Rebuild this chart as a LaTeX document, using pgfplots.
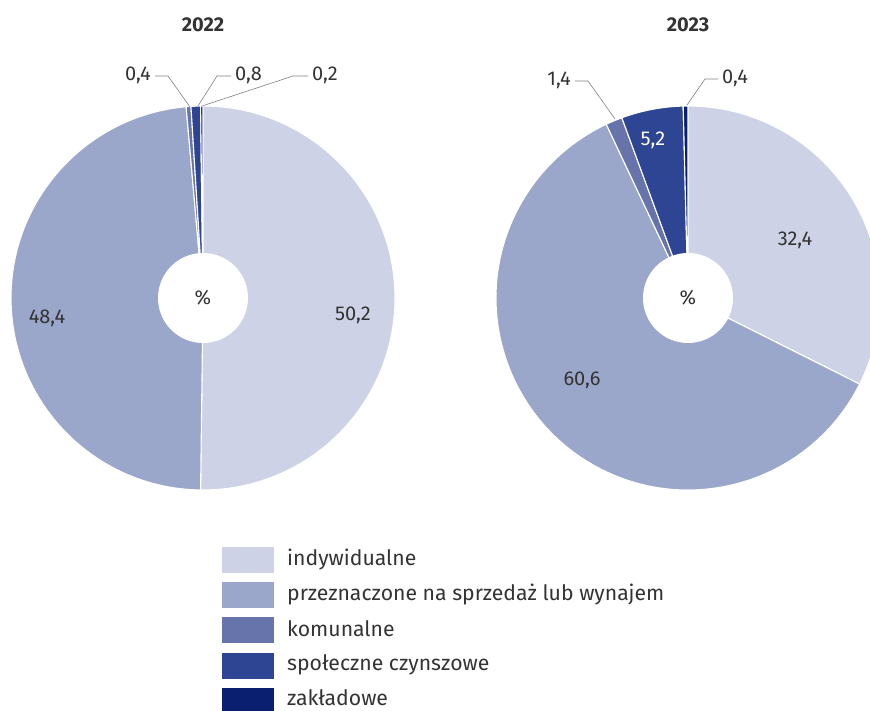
\documentclass[border=0pt]{standalone}
\usepackage{fontspec}
\setmainfont{Fira Sans}
\usepackage{pgfplots}
\usepackage{pgfplotstable}
\pgfplotsset{compat=1.18}
\definecolor{pc0}{HTML}{CDD2E6}
\definecolor{pc1}{HTML}{9BA7CA}
\definecolor{pc2}{HTML}{6674AB}
\definecolor{pc3}{HTML}{2E4593}
\definecolor{pc4}{HTML}{0A1F6F}
\definecolor{txt}{HTML}{333333}
\definecolor{lead}{HTML}{808080}
\newcommand\lf{\fontsize{20}{23}\selectfont}
\newcommand\legf{\fontsize{21.2}{24}\selectfont}
\tikzset{lab/.style={font=\lf, text=txt, inner sep=0pt},
  leg/.style={font=\legf, text=txt, inner sep=0pt, anchor=west},
  ttl/.style={font=\fontsize{20}{24}\selectfont\bfseries, text=txt, inner sep=0pt}}

\pgfplotstableread{
cat val
indywidualne 50.2
przeznaczone 48.4
komunalne 0.4
spoleczne 0.8
zakladowe 0.2
}\dataA
\pgfplotstableread{
cat val
indywidualne 32.4
przeznaczone 60.6
komunalne 1.4
spoleczne 5.2
zakladowe 0.4
}\dataB

\newcommand\drawpie[4]{%
  \def\curang{90}%
  \pgfplotsforeachungrouped \i in {0,...,4}{%
    \pgfplotstablegetelem{\i}{val}\of#1%
    \pgfmathsetmacro\endang{\curang-3.6*\pgfplotsretval}%
    \pgfmathsetmacro\sx{#2+#4*cos(\curang)}%
    \pgfmathsetmacro\sy{#3+#4*sin(\curang)}%
    \edef\temp{\noexpand\fill[fill=pc\i, draw=white, line width=1.1pt] (axis cs:#2,#3) -- (axis cs:\sx,\sy) arc[start angle=\curang, end angle=\endang, radius=#4] -- cycle;}%
    \temp
    \let\curang\endang
  }%
  \fill[white] (axis cs:#2,#3) circle[radius=45];
}

\begin{document}
\begin{tikzpicture}
\begin{axis}[width=870pt, height=710pt, scale only axis,
  xmin=0, xmax=870, ymin=0, ymax=710, hide axis, clip=true]
\drawpie{\dataA}{203}{412}{192}
\drawpie{\dataB}{688}{412}{192}
% titles
\node[ttl] at (axis cs:203,685) {2022};
\node[ttl] at (axis cs:688,685) {2023};
% centre
\node[lab] at (axis cs:203,412) {\%};
\node[lab] at (axis cs:688,412) {\%};
% value labels
\node[lab] at (axis cs:353,395) {50,2};
\node[lab] at (axis cs:47,392) {48,4};
\node[lab] at (axis cs:795,470) {32,4};
\node[lab] at (axis cs:582,330) {60,6};
\node[lab, text=white] at (axis cs:653,570) {5,2};
% leader lines
\draw[lead, line width=0.6pt] (axis cs:155,634) -- (axis cs:168,634) -- (axis cs:190,603);
\draw[lead, line width=0.6pt] (axis cs:231,634) -- (axis cs:217,634) -- (axis cs:198,604);
\draw[lead, line width=0.6pt] (axis cs:308,634) -- (axis cs:293,634) -- (axis cs:202,604);
\draw[lead, line width=0.6pt] (axis cs:575,629) -- (axis cs:588,629) -- (axis cs:615,591);
\draw[lead, line width=0.6pt] (axis cs:718,631) -- (axis cs:705,631) -- (axis cs:687,605);
\node[lab, anchor=east] at (axis cs:151,635) {0,4};
\node[lab, anchor=west] at (axis cs:235,635) {0,8};
\node[lab, anchor=west] at (axis cs:312,635) {0,2};
\node[lab, anchor=east] at (axis cs:571,630) {1,4};
\node[lab, anchor=west] at (axis cs:722,632) {0,4};
% legend
\fill[pc0] (axis cs:222,137) rectangle (axis cs:274,163);
\fill[pc1] (axis cs:222,102) rectangle (axis cs:274,128);
\fill[pc2] (axis cs:222,67) rectangle (axis cs:274,93);
\fill[pc3] (axis cs:222,31) rectangle (axis cs:274,57);
\fill[pc4] (axis cs:222,-4) rectangle (axis cs:274,22);
\node[leg] at (axis cs:287,151) {indywidualne};
\node[leg] at (axis cs:287,116) {przeznaczone na sprzedaż lub wynajem};
\node[leg] at (axis cs:287,81) {komunalne};
\node[leg] at (axis cs:287,45) {społeczne czynszowe};
\node[leg] at (axis cs:287,12) {zakładowe};
\end{axis}
\pgfresetboundingbox
\path (current axis.south west) rectangle (current axis.north east);
\end{tikzpicture}
\end{document}
